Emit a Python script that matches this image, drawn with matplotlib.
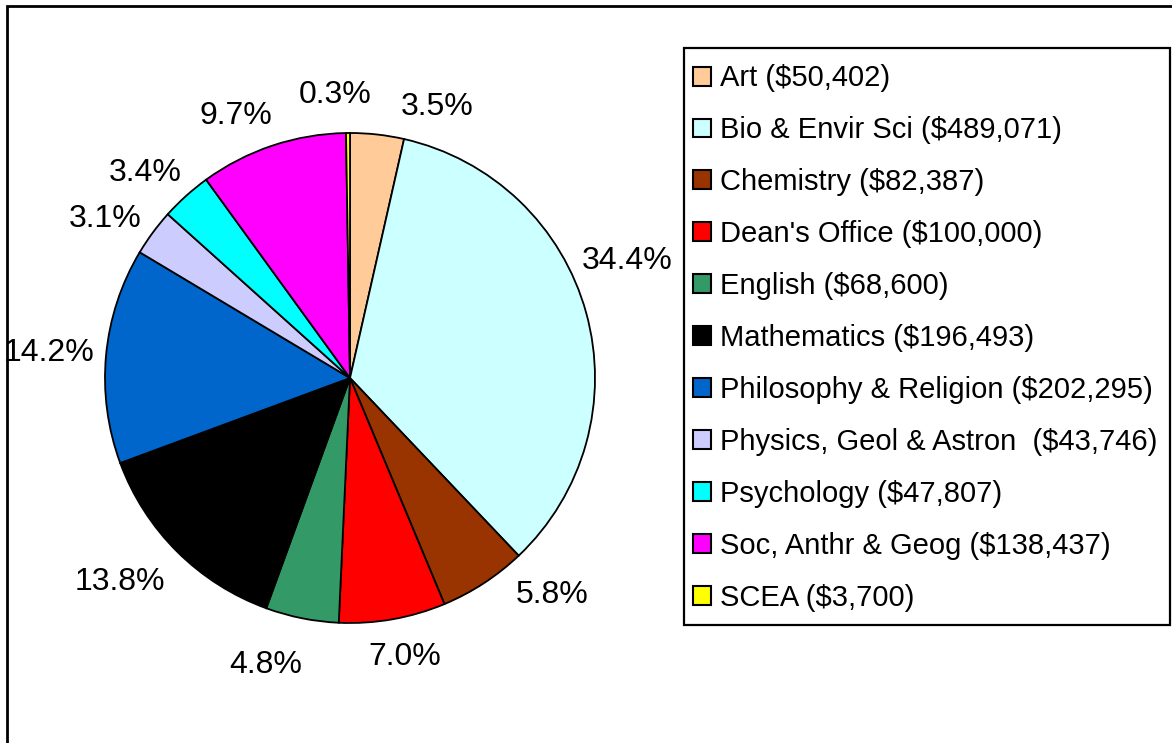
import matplotlib.pyplot as plt
import matplotlib.patches as mpatches
import numpy as np

plt.rcParams['font.family'] = ['Liberation Sans', 'DejaVu Sans']

# data
departments = ['Art', 'Bio & Envir Sci', 'Chemistry', "Dean's Office", 'English',
               'Mathematics', 'Philosophy & Religion', 'Physics, Geol & Astron ',
               'Psychology', 'Soc, Anthr & Geog', 'SCEA']
amounts = [50402, 489071, 82387, 100000, 68600, 196493, 202295, 43746, 47807, 138437, 3700]
colours = ['#FFCC99', '#CCFFFF', '#993300', '#FF0000', '#339966', '#000000',
           '#0066CC', '#CCCCFF', '#00FFFF', '#FF00FF', '#FFFF00']
# small nudges (angle in deg, extra distance in px) so the labels sit like excel's best fit
label_nudge = [-11.5, 7.5, 10, 1, -5, -3.5, 0.5, 3.5, 3, 5, 2.5]
label_push = [0, 0, 7, 0, 14, 12, 0, 0, 0, 0, 0]

W, H = 1172, 743
fig = plt.figure(figsize=(W / 100, H / 100), dpi=100)

# pie axes: centre (350, 378) px, radius 245 px
cx, cy, r = 350, 378, 245
ax = fig.add_axes([(cx - r) / W, (H - cy - r) / H, 2 * r / W, 2 * r / H])
wedges, _ = ax.pie(amounts, colors=colours, startangle=90, counterclock=False,
                   radius=1.0, wedgeprops=dict(edgecolor='black', linewidth=1.3))
ax.set_xlim(-1, 1)
ax.set_ylim(-1, 1)
ax.set_aspect('equal')
ax.axis('off')

# percentage labels outside the pie: the box sits just outside the rim
total = sum(amounts)
renderer = fig.canvas.get_renderer()
R0 = 264 / r
for w, val, nudge, push in zip(wedges, amounts, label_nudge, label_push):
    ang = np.deg2rad((w.theta1 + w.theta2) / 2 + nudge)
    t = ax.text(0, 0, '{:.1f}%'.format(100 * val / total),
                ha='center', va='center', fontsize=23)
    bb = t.get_window_extent(renderer)
    a = bb.width / 2 / r * 0.85
    b = bb.height / 2 / r * 1.3
    d = R0 + push / r + np.hypot(a * np.cos(ang), b * np.sin(ang))
    t.set_position((d * np.cos(ang), d * np.sin(ang)))

# legend (frame drawn separately so it matches the box size)
labels = ['{} (${:,})'.format(n, v) for n, v in zip(departments, amounts)]
handles = [mpatches.Patch(facecolor=c, edgecolor='black', linewidth=1.5) for c in colours]
leg = fig.legend(handles, labels, loc='upper left',
                 bbox_to_anchor=(684 / W, 1 - 55 / H), fontsize=21, frameon=False,
                 handlelength=0.62, handleheight=0.62, handletextpad=0.28,
                 labelspacing=0.82, borderpad=0.32, borderaxespad=0)
leg_box = mpatches.Rectangle((684 / W, 1 - 625 / H), (1170 - 684) / W, (625 - 48) / H,
                             transform=fig.transFigure, fill=False, edgecolor='black',
                             linewidth=1.6)
fig.patches.append(leg_box)

# outer chart border
border = mpatches.Rectangle((7 / W, -0.1), 1.2, 1 - 6 / H + 0.1, transform=fig.transFigure,
                            fill=False, edgecolor='black', linewidth=2, clip_on=False)
fig.patches.append(border)

fig.savefig('out.png', dpi=100)
plt.close()
